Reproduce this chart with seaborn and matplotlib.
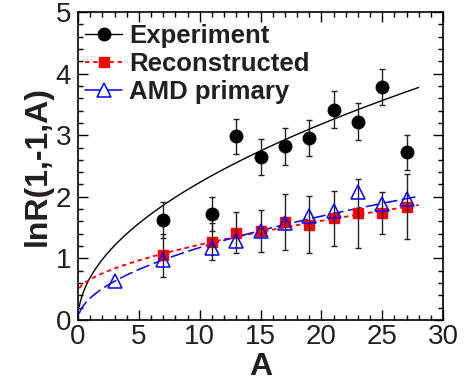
import numpy as np
import pandas as pd
import matplotlib
matplotlib.use('Agg')
import matplotlib.pyplot as plt
from matplotlib.lines import Line2D
from matplotlib.ticker import MultipleLocator
import seaborn as sns

# data
exp_A = [7, 11, 13, 15, 17, 19, 21, 23, 25, 27]
exp_y = [1.62, 1.72, 2.98, 2.65, 2.82, 2.95, 3.41, 3.22, 3.78, 2.72]
exp_err = [0.29, 0.28, 0.28, 0.29, 0.30, 0.29, 0.30, 0.30, 0.29, 0.28]

rec_A = [7, 11, 13, 15, 17, 19, 21, 23, 25, 27]
rec_y = [1.05, 1.27, 1.42, 1.45, 1.59, 1.55, 1.65, 1.73, 1.73, 1.84]
rec_err = [0.35, 0.30, 0.34, 0.34, 0.46, 0.46, 0.45, 0.56, 0.34, 0.53]

amd_A = [3, 7, 11, 13, 15, 17, 19, 21, 23, 25, 27]
amd_y = [0.64, 0.98, 1.17, 1.28, 1.45, 1.58, 1.69, 1.77, 2.07, 1.88, 1.97]

# fit curves y = c + a*A^b (parameters)
exp_fit = (0.0, 0.69, 0.51)
rec_fit = (0.47, 0.189, 0.60)
amd_fit = (0.0, 0.355, 0.52)
fit_range = (0.1, 28)

labels = ['Experiment', 'Reconstructed', 'AMD primary']

sns.set_theme(style='ticks')
plt.rcParams['font.family'] = ['Liberation Sans', 'DejaVu Sans']
text_col = '#231f20'

fig = plt.figure(figsize=(4.71, 3.83), dpi=100)
ax = fig.add_axes([0.1656, 0.1645, 0.775, 0.8042])

grid = np.linspace(fit_range[0], fit_range[1], 300)
fits = pd.DataFrame({'A': grid})
for name, (c, a, b) in zip(['exp', 'rec', 'amd'], [exp_fit, rec_fit, amd_fit]):
    fits[name] = c + a * grid ** b

sns.lineplot(data=fits, x='A', y='exp', ax=ax, color='black', lw=1.0)
sns.lineplot(data=fits, x='A', y='rec', ax=ax, color='red', lw=1.3)
ax.lines[-1].set_dashes((2.5, 2.0))
sns.lineplot(data=fits, x='A', y='amd', ax=ax, color='blue', lw=1.1)
ax.lines[-1].set_dashes((9, 3))

ax.errorbar(exp_A, exp_y, yerr=exp_err, fmt='none', ecolor='#222222', elinewidth=1.0, capsize=2, zorder=3)
ax.errorbar(rec_A, rec_y, yerr=rec_err, fmt='none', ecolor='#222222', elinewidth=1.0, capsize=2, zorder=5)

ax.plot(exp_A, exp_y, 'o', color='black', ms=9, zorder=4)
ax.plot(rec_A, rec_y, 's', color='red', mec='red', ms=7.5, zorder=4)
ax.plot(amd_A, amd_y, '^', mfc='none', mec='blue', mew=1.1, ms=9.5, zorder=6)

ax.set_xlim(0, 30)
ax.set_ylim(0, 5)
ax.xaxis.set_major_locator(MultipleLocator(5))
ax.xaxis.set_minor_locator(MultipleLocator(1))
ax.yaxis.set_major_locator(MultipleLocator(1))
ax.yaxis.set_minor_locator(MultipleLocator(0.2))
ax.tick_params(which='both', direction='in', top=True, right=True, color='black', width=1.0)
ax.tick_params(which='major', length=7, labelsize=20, labelcolor=text_col)
ax.tick_params(axis='x', which='major', pad=3)
ax.tick_params(axis='y', which='major', pad=5)
ax.tick_params(which='minor', length=3.5)
for s in ax.spines.values():
    s.set_color('black')
    s.set_linewidth(1.2)

ax.set_xlabel('A', fontsize=23, fontweight='bold', color=text_col, labelpad=1)
ax.set_ylabel('lnR(1,-1,A)', fontsize=23, fontweight='bold', color=text_col, labelpad=2)

handles = [
    Line2D([], [], color='black', lw=1.0, marker='o', ms=9),
    Line2D([], [], color='red', lw=1.3, ls=(0, (2.5, 2.0)), marker='s', ms=7.5),
    Line2D([], [], color='blue', lw=1.1, marker='^', mfc='white', mec='blue', mew=1.1, ms=9.5),
]
leg = ax.legend(handles, labels, loc='upper left', bbox_to_anchor=(-0.012, 1.0), frameon=False,
                prop={'weight': 'bold', 'size': 18.5}, handlelength=1.45, handletextpad=0.25,
                labelspacing=0.17, borderpad=0.25, borderaxespad=0.2)
for t in leg.get_texts():
    t.set_color(text_col)

fig.savefig('out.png', dpi=100)
